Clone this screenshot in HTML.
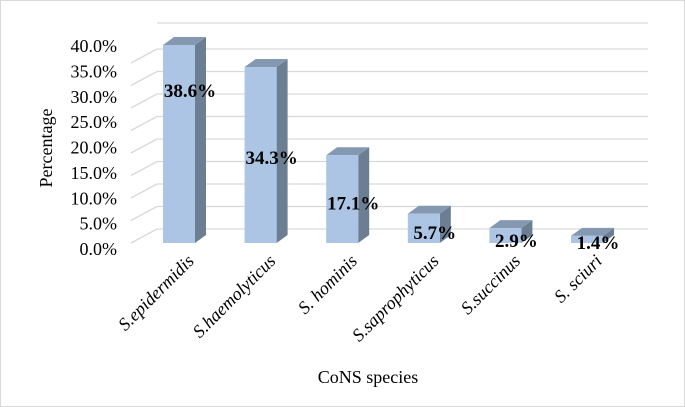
<!DOCTYPE html>
<html><head><meta charset="utf-8"><style>
html,body{margin:0;padding:0;background:#fff}
svg{display:block;font-family:"Liberation Serif",serif}
</style></head><body>
<svg width="685" height="407" viewBox="0 0 685 407">
<rect x="0.5" y="0.5" width="684" height="406" fill="#fff" stroke="#d9d9d9"/>
<g id="grid"></g><g id="yticks"></g><g id="bars"></g><g id="xlabels"></g><g id="vlabels"></g>
<text x="52" y="148" font-size="18" text-anchor="middle" transform="rotate(-90 52 148)">Percentage</text>
<text x="368" y="383" font-size="18" text-anchor="middle">CoNS species</text>
</svg>
<script>
const categories=["S.epidermidis","S.haemolyticus","S. hominis","S.saprophyticus","S.succinus","S. sciuri"];
const values=[38.6,34.3,17.1,5.7,2.9,1.4];
const valueLabels=["38.6%","34.3%","17.1%","5.7%","2.9%","1.4%"];
const tickValues=[0,5,10,15,20,25,30,35,40];
const tickLabels=["0.0%","5.0%","10.0%","15.0%","20.0%","25.0%","30.0%","35.0%","40.0%"];
const labelDrop=[45,90,47,18,12,6];
const NS="http://www.w3.org/2000/svg";
function mk(t,a,p){const e=document.createElementNS(NS,t);for(const k in a)e.setAttribute(k,a[k]);p.appendChild(e);return e;}
const ys=v=>243-v*5.13;
const ysBack=v=>229-v*4.5;
const ysLab=v=>249-v*5.075;
const xc=i=>179+i*81.6;
const DX=11,DY=-8,BW=32;
const grid=document.getElementById('grid');
tickValues.forEach((t,i)=>{
  const y=ysBack(t);
  const l=mk('line',{x1:157,y1:y,x2:648,y2:y,stroke:'#d9d9d9','stroke-width':1.3},grid);
  
  
  const d=mk('line',{x1:131,y1:y+14,x2:157,y2:y,stroke:'#d9d9d9','stroke-width':1.3},grid);
  
  
  const tx=mk('text',{x:117,y:ysLab(t)+6,'font-size':18,'text-anchor':'end'},document.getElementById('yticks'));
  tx.textContent=tickLabels[i];
  
  
});
const wallTop=mk('line',{x1:157,y1:23,x2:648,y2:23,stroke:'#d9d9d9','stroke-width':1.3},grid);


const bars=document.getElementById('bars');
values.forEach((v,i)=>{
  const x0=xc(i)-BW/2,x1=x0+BW,yt=ys(v),yb=243;
  const g=mk('g',{},bars);
  
  
  mk('polygon',{points:`${x1},${yt} ${x1+DX},${yt+DY} ${x1+DX},${yb+DY} ${x1},${yb}`,fill:'#6b7e92'},g);
  mk('polygon',{points:`${x0},${yt} ${x0+DX},${yt+DY} ${x1+DX},${yt+DY} ${x1},${yt}`,fill:'#8499b1'},g);
  mk('rect',{x:x0,y:yt,width:BW,height:yb-yt,fill:'#adc5e4'},g);
  const lab=mk('text',{x:xc(i)+11,y:yt+labelDrop[i]+7,'font-size':19,'font-weight':'bold','text-anchor':'middle'},document.getElementById('vlabels'));
  lab.textContent=valueLabels[i];
  
  
  const xl=xc(i)+16,yl=262;
  const c=mk('text',{x:xl,y:yl,'font-size':18,'font-style':'italic','text-anchor':'end',transform:`rotate(-45 ${xl} ${yl})`},document.getElementById('xlabels'));
  c.textContent=categories[i];
  
  
});
</script>
</body></html>
